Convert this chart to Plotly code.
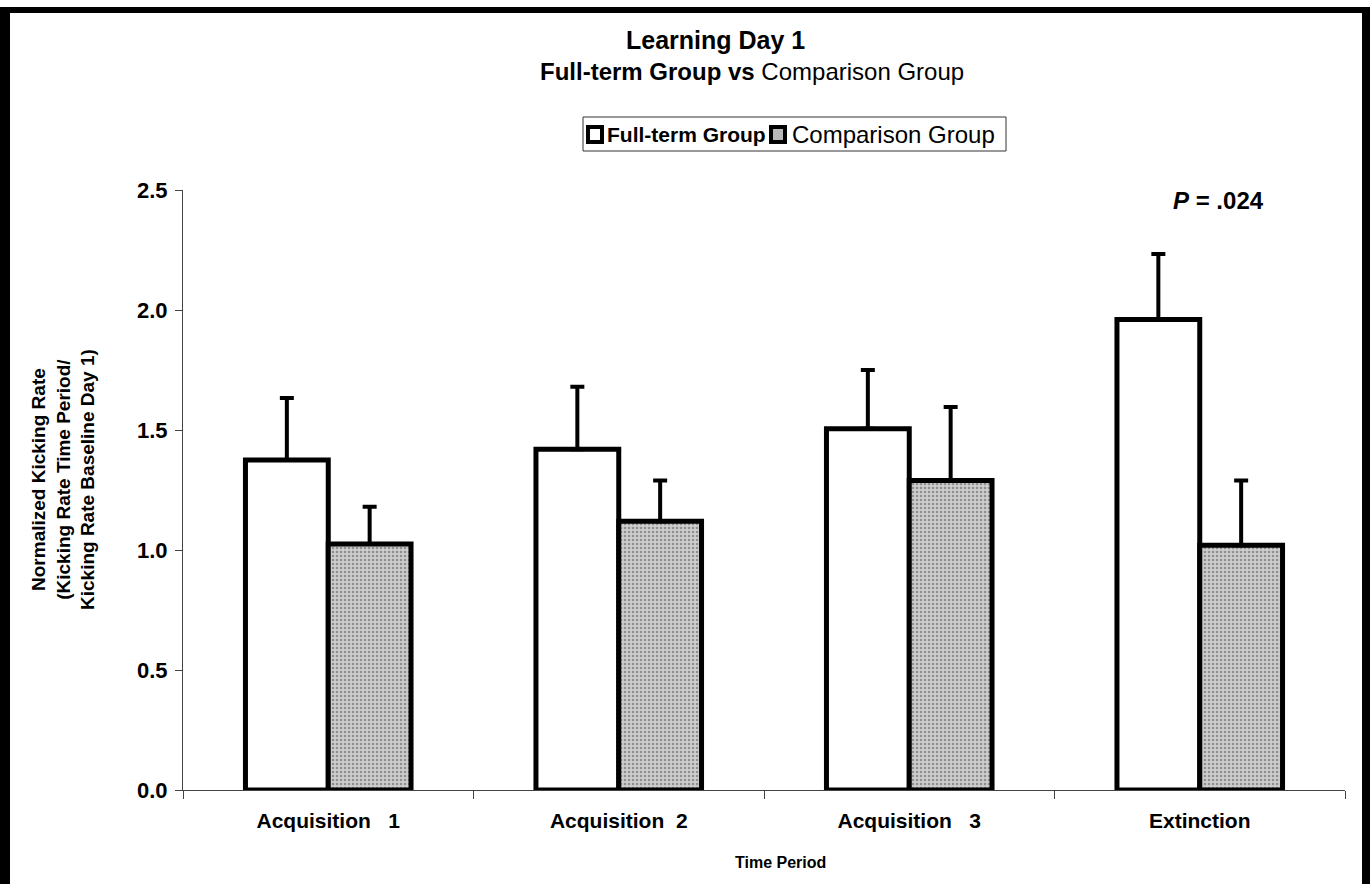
import plotly.graph_objects as go

# ---- data ----
categories = ["Acquisition\u00a0\u00a0 1", "Acquisition\u00a0 2", "Acquisition\u00a0\u00a0 3", "Extinction"]
fullterm_values = [1.375, 1.42, 1.505, 1.96]
fullterm_err = [0.258, 0.26, 0.245, 0.273]
comparison_values = [1.025, 1.12, 1.29, 1.02]
comparison_err = [0.155, 0.17, 0.306, 0.27]
y_ticks = [0.0, 0.5, 1.0, 1.5, 2.0, 2.5]
y_ticklabels = ["0.0", "0.5", "1.0", "1.5", "2.0", "2.5"]

FONT = "Arial, Liberation Sans, sans-serif"
W, H = 1370, 884
L, R, T, B = 183, 25, 190, 94
PW, PH = W - L - R, H - T - B


def px(x):
    return (x - L) / PW


def py(y):
    return (H - B - y) / PH


fig = go.Figure()
fig.add_trace(go.Bar(
    x=categories, y=fullterm_values, name="Full-term Group",
    marker=dict(color="white", line=dict(color="black", width=5)),
    error_y=dict(type="data", array=fullterm_err, arrayminus=[0] * 4, symmetric=False,
                 color="black", thickness=4, width=7),
    showlegend=False,
))
fig.add_trace(go.Bar(
    x=categories, y=comparison_values, name="Comparison Group",
    marker=dict(color="#c0c0c0", line=dict(color="black", width=5),
                pattern=dict(shape=".", fgcolor="#505050", bgcolor="#cecece", size=4, solidity=0.35)),
    error_y=dict(type="data", array=comparison_err, arrayminus=[0] * 4, symmetric=False,
                 color="black", thickness=4, width=7),
    showlegend=False,
))

shapes = []
# page frame
shapes.append(dict(type="rect", xref="paper", yref="paper", x0=px(-2), x1=px(10), y0=py(900), y1=py(7),
                   fillcolor="black", line=dict(width=0), layer="above"))
shapes.append(dict(type="rect", xref="paper", yref="paper", x0=px(-2), x1=px(1372), y0=py(13), y1=py(7),
                   fillcolor="black", line=dict(width=0), layer="above"))
shapes.append(dict(type="rect", xref="paper", yref="paper", x0=px(1362), x1=px(1372), y0=py(900), y1=py(7),
                   fillcolor="black", line=dict(width=0), layer="above"))
# legend box
shapes.append(dict(type="rect", xref="paper", yref="paper", x0=px(583), x1=px(1006), y0=py(151), y1=py(117),
                   fillcolor="white", line=dict(color="#333", width=1)))
shapes.append(dict(type="rect", xref="paper", yref="paper", x0=px(588), x1=px(602), y0=py(142), y1=py(127),
                   fillcolor="white", line=dict(color="black", width=4)))
shapes.append(dict(type="rect", xref="paper", yref="paper", x0=px(771), x1=px(785), y0=py(142), y1=py(127),
                   fillcolor="#b8b8b8", line=dict(color="black", width=4)))


def ann(text, x, y, size, xanchor="center", angle=0):
    return dict(text=text, x=px(x), y=py(y), xref="paper", yref="paper", xanchor=xanchor,
                yanchor="middle", textangle=angle, showarrow=False,
                font=dict(family=FONT, size=size, color="black"))


annotations = [
    ann("<b>Learning Day 1</b>", 715, 40, 25),
    ann("<b>Full-term Group vs </b>Comparison Group", 752, 72, 24),
    ann("<b>Full-term Group</b>", 605, 134, 21, xanchor="left"),
    ann("Comparison Group", 790, 134, 24, xanchor="left"),
    ann("<b><i>P</i> = .024</b>", 1218, 200, 24),
    ann("<b>Normalized Kicking Rate<br>(Kicking Rate Time Period/<br>Kicking Rate Baseline Day 1)</b>",
        63, 480, 19, angle=-90),
    ann("<b>Time Period</b>", 780, 862, 16),
]

fig.update_layout(
    width=W, height=H,
    margin=dict(l=L, r=R, t=T, b=B, autoexpand=False),
    paper_bgcolor="white", plot_bgcolor="white",
    barmode="group", bargap=0.43, bargroupgap=0,
    shapes=shapes, annotations=annotations,
    font=dict(family=FONT, color="black"),
)
fig.update_xaxes(
    showline=True, linecolor="#444", linewidth=1, showgrid=False, zeroline=False,
    ticks="outside", tickson="boundaries", ticklen=8, tickcolor="#444",
    ticklabelstandoff=12,
    tickfont=dict(family=FONT, size=21, color="black", weight="bold"),
)
fig.update_yaxes(
    range=[0, 2.5], tickvals=y_ticks, ticktext=y_ticklabels,
    showline=True, linecolor="#444", linewidth=1, showgrid=False, zeroline=False,
    ticks="outside", ticklen=7, tickcolor="#444",
    ticklabelstandoff=3,
    tickfont=dict(family=FONT, size=22, color="black", weight="bold"),
)

fig.write_html("out.html", config={"displayModeBar": False},
               post_script="document.body.style.margin='0';document.body.style.overflow='hidden';")
